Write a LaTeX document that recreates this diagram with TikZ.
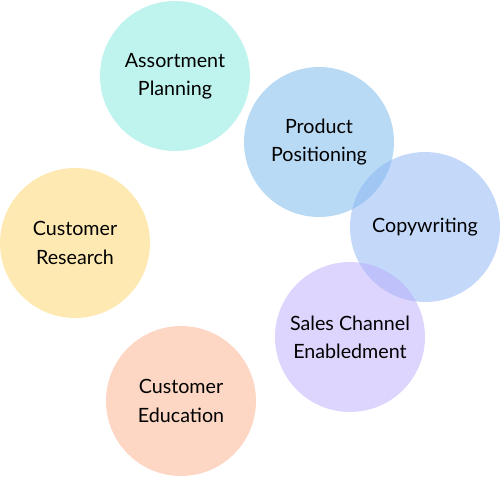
\documentclass[tikz,border=0pt]{standalone}
\usepackage{fontspec}
\setmainfont{Lato}
\definecolor{teal}{RGB}{127,231,221}
\definecolor{skyblue}{RGB}{113,181,235}
\definecolor{periwinkle}{RGB}{137,179,245}
\definecolor{lavender}{RGB}{187,171,251}
\definecolor{peach}{RGB}{251,173,137}
\definecolor{butter}{RGB}{253,211,101}
\begin{document}
\begin{tikzpicture}[
    x=0.02cm, y=-0.02cm,
    bubble/.style={
      circle,
      minimum size=3cm,
      inner sep=0pt,
      fill opacity=0.5,
      text opacity=1,
      align=center,
      font=\fontsize{11.2}{16}\selectfont
    }
  ]
  \useasboundingbox (0,0) rectangle (500,500);

  \node[bubble, fill=teal] (assortment) at (175,76) {Assortment\\Planning};
  \node[bubble, fill=butter] (research) at (75,243) {Customer\\Research};
  \node[bubble, fill=peach] (education) at (181,401) {Customer\\Education};
  \node[bubble, fill=skyblue] (positioning) at (319,142) {Product\\Positioning};
  \node[bubble, fill=periwinkle] (copy) at (425,227) {Copywriting};
  \node[bubble, fill=lavender] (sales) at (350,337) {Sales Channel\\Enabledment};
\end{tikzpicture}
\end{document}
